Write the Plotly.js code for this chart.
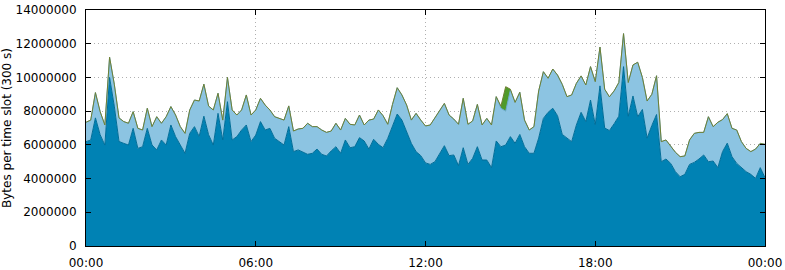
<!DOCTYPE html>
<html>
<head>
<meta charset="utf-8">
<script src="https://cdn.plot.ly/plotly-3.0.1.min.js"></script>
<style>
html,body{margin:0;padding:0;background:#fff;}
#chart{width:785px;height:270px;}
</style>
</head>
<body>
<div id="chart"></div>
<script>
// Time slot (minutes since midnight), one sample every 10 minutes
const slotMinutes = [0,10,20,30,40,50,60,70,80,90,100,110,120,130,140,150,160,170,180,190,200,210,220,230,240,250,260,270,280,290,300,310,320,330,340,350,360,370,380,390,400,410,420,430,440,450,460,470,480,490,500,510,520,530,540,550,560,570,580,590,600,610,620,630,640,650,660,670,680,690,700,710,720,730,740,750,760,770,780,790,800,810,820,830,840,850,860,870,880,890,900,910,920,930,940,950,960,970,980,990,1000,1010,1020,1030,1040,1050,1060,1070,1080,1090,1100,1110,1120,1130,1140,1150,1160,1170,1180,1190,1200,1210,1220,1230,1240,1250,1260,1270,1280,1290,1300,1310,1320,1330,1340,1350,1360,1370,1380,1390,1400,1410,1420,1430,1440];

// Bottom layer (dark blue), bytes per slot
const darkLayer = [6.19e6,6.29e6,7.6e6,6.6e6,5.99e6,10.0e6,8.3e6,6.2e6,6.09e6,5.99e6,6.98e6,5.79e6,5.89e6,6.98e6,5.99e6,5.70e6,6.29e6,5.99e6,7.18e6,6.49e6,5.99e6,5.50e6,6.68e6,7.08e6,6.5e6,7.7e6,6.6e6,5.99e6,7.87e6,6.29e6,8.56e6,6.29e6,6.49e6,6.88e6,7.18e6,6.19e6,6.58e6,7.38e6,6.88e6,6.98e6,6.39e6,6.19e6,5.99e6,7.08e6,5.6e6,5.70e6,5.56e6,5.44e6,5.50e6,5.75e6,5.44e6,5.34e6,5.64e6,5.89e6,5.50e6,6.29e6,5.83e6,5.89e6,6.43e6,6.23e6,5.75e6,6.33e6,6.03e6,5.83e6,6.39e6,7.08e6,7.83e6,7.47e6,6.82e6,6.09e6,5.60e6,5.36e6,4.93e6,4.84e6,5.00e6,5.44e6,5.95e6,5.36e6,5.40e6,4.77e6,5.83e6,4.84e6,5.20e6,5.89e6,5.10e6,5.10e6,4.65e6,6.23e6,5.89e6,5.99e6,6.49e6,6.09e6,6.62e6,5.89e6,5.50e6,5.50e6,6.4e6,7.57e6,7.93e6,8.17e6,7.73e6,6.62e6,6.39e6,6.19e6,7.18e6,7.93e6,7.38e6,8.66e6,7.2e6,9.5e6,7.0e6,6.85e6,7.25e6,7.7e6,10.64e6,7.7e6,8.9e6,7.67e6,8.1e6,6.4e6,7.15e6,7.8e6,5.0e6,5.16e6,4.90e6,4.41e6,4.11e6,4.25e6,4.84e6,4.96e6,5.16e6,5.40e6,5.0e6,5.04e6,4.65e6,5.6e6,6.1e6,5.30e6,4.90e6,4.65e6,4.41e6,4.25e6,4.01e6,4.65e6,4.05e6];

// Top of the middle layer (light blue), cumulative bytes per slot
const lightTop = [7.34e6,7.47e6,9.1e6,7.97e6,7.18e6,11.2e6,9.6e6,7.6e6,7.38e6,7.28e6,7.97e6,6.98e6,6.88e6,8.17e6,7.08e6,7.67e6,7.28e6,7.67e6,8.27e6,7.77e6,7.08e6,6.68e6,8.07e6,8.66e6,8.6e6,9.6e6,8.3e6,8.07e6,9.06e6,7.47e6,10.0e6,8.07e6,7.77e6,8.07e6,8.96e6,7.77e6,8.07e6,8.76e6,8.36e6,8.07e6,7.67e6,7.57e6,7.47e6,8.31e6,6.82e6,6.94e6,6.98e6,7.28e6,7.08e6,7.08e6,6.88e6,6.74e6,6.82e6,7.28e6,6.88e6,7.57e6,7.22e6,7.18e6,7.77e6,7.18e6,7.47e6,7.53e6,8.07e6,7.73e6,7.22e6,8.40e6,9.39e6,8.96e6,8.36e6,7.47e6,7.87e6,7.47e6,7.12e6,7.18e6,7.61e6,7.97e6,8.46e6,7.77e6,7.53e6,7.22e6,8.76e6,7.22e6,7.42e6,8.40e6,7.18e6,7.57e6,7.18e6,8.86e6,8.17e6,8.0e6,9.25e6,8.52e6,9.12e6,7.47e6,6.88e6,7.08e6,9.2e6,10.34e6,9.95e6,10.5e6,10.14e6,9.59e6,8.86e6,8.96e6,9.65e6,10.09e6,9.55e6,10.64e6,9.75e6,11.8e6,9.3e6,8.85e6,9.2e6,9.7e6,12.6e6,9.7e6,10.74e6,10.9e6,10.0e6,8.6e6,9.0e6,10.1e6,6.19e6,6.29e6,5.95e6,5.56e6,5.30e6,5.34e6,6.29e6,6.68e6,6.74e6,6.74e6,7.67e6,7.08e6,7.34e6,7.5e6,7.85e6,6.98e6,6.88e6,6.19e6,5.79e6,5.60e6,5.75e6,6.09e6,6.03e6];

// Top of the thin upper layer (green), cumulative bytes per slot
const greenTop = [7.34e6,7.47e6,9.1e6,7.97e6,7.18e6,11.2e6,9.6e6,7.6e6,7.38e6,7.28e6,7.97e6,6.98e6,6.88e6,8.17e6,7.08e6,7.67e6,7.28e6,7.67e6,8.27e6,7.77e6,7.08e6,6.68e6,8.07e6,8.66e6,8.6e6,9.6e6,8.3e6,8.07e6,9.06e6,7.47e6,10.0e6,8.07e6,7.77e6,8.07e6,8.96e6,7.77e6,8.07e6,8.76e6,8.36e6,8.07e6,7.67e6,7.57e6,7.47e6,8.31e6,6.82e6,6.94e6,6.98e6,7.28e6,7.08e6,7.08e6,6.88e6,6.74e6,6.82e6,7.28e6,6.88e6,7.57e6,7.22e6,7.18e6,7.77e6,7.18e6,7.47e6,7.53e6,8.07e6,7.73e6,7.22e6,8.40e6,9.39e6,8.96e6,8.36e6,7.47e6,7.87e6,7.47e6,7.12e6,7.18e6,7.61e6,7.97e6,8.46e6,7.77e6,7.53e6,7.22e6,8.76e6,7.22e6,7.42e6,8.40e6,7.18e6,7.57e6,7.18e6,8.86e6,8.3e6,9.45e6,9.3e6,8.52e6,9.12e6,7.47e6,6.88e6,7.08e6,9.2e6,10.34e6,9.95e6,10.5e6,10.14e6,9.59e6,8.86e6,8.96e6,9.65e6,10.09e6,9.55e6,10.64e6,9.75e6,11.8e6,9.3e6,8.85e6,9.2e6,9.7e6,12.6e6,9.7e6,10.74e6,10.9e6,10.0e6,8.6e6,9.0e6,10.1e6,6.19e6,6.29e6,5.95e6,5.56e6,5.30e6,5.34e6,6.29e6,6.68e6,6.74e6,6.74e6,7.67e6,7.08e6,7.34e6,7.5e6,7.85e6,6.98e6,6.88e6,6.19e6,5.79e6,5.60e6,5.75e6,6.09e6,6.03e6];

const xTickVals = [0,360,720,1080,1440];
const xTickText = ['00:00','06:00','12:00','18:00','00:00'];
const yTickVals = [0,2000000,4000000,6000000,8000000,10000000,12000000,14000000];
const yTickText = ['0','2000000','4000000','6000000','8000000','10000000','12000000','14000000'];

const traces = [
  {x: slotMinutes, y: darkLayer, type:'scatter', mode:'lines', fill:'tozeroy',
   fillcolor:'#0082b4', line:{color:'#006d98', width:1}, hoverinfo:'skip'},
  {x: slotMinutes, y: lightTop, type:'scatter', mode:'lines', fill:'tonexty',
   fillcolor:'#8cc4e2', line:{color:'#6aaad0', width:1}, hoverinfo:'skip'},
  {x: slotMinutes, y: greenTop, type:'scatter', mode:'lines', fill:'tonexty',
   fillcolor:'#4f9a2a', line:{color:'#6f8032', width:1}, hoverinfo:'skip'}
];

const font = {family:'DejaVu Sans, sans-serif', size:12, color:'#000'};
const layout = {
  width:785, height:270,
  margin:{l:86, r:20, t:10, b:24, pad:0},
  paper_bgcolor:'#fff', plot_bgcolor:'#fff',
  showlegend:false,
  font: font,
  xaxis:{
    range:[0,1440], tickvals:xTickVals, ticktext:xTickText,
    showgrid:true, gridcolor:'#b0b0b0', griddash:'1px,3px', gridwidth:1,
    showline:true, linecolor:'#000', linewidth:1, mirror:'allticks',
    ticks:'inside', ticklen:5, tickcolor:'#000', zeroline:false,
    tickfont:font, ticklabelstandoff:6, fixedrange:true
  },
  yaxis:{
    range:[0,14000000], tickvals:yTickVals, ticktext:yTickText,
    showgrid:true, gridcolor:'#b0b0b0', griddash:'1px,3px', gridwidth:1,
    showline:true, linecolor:'#000', linewidth:1, mirror:'allticks',
    ticks:'inside', ticklen:5, tickcolor:'#000', zeroline:false,
    tickfont:font, ticklabelstandoff:6,
    title:{text:'Bytes per time slot (300 s)', font:font, standoff:3}
  }
};

Plotly.newPlot('chart', traces, layout, {staticPlot:true, displayModeBar:false});
</script>
</body>
</html>
